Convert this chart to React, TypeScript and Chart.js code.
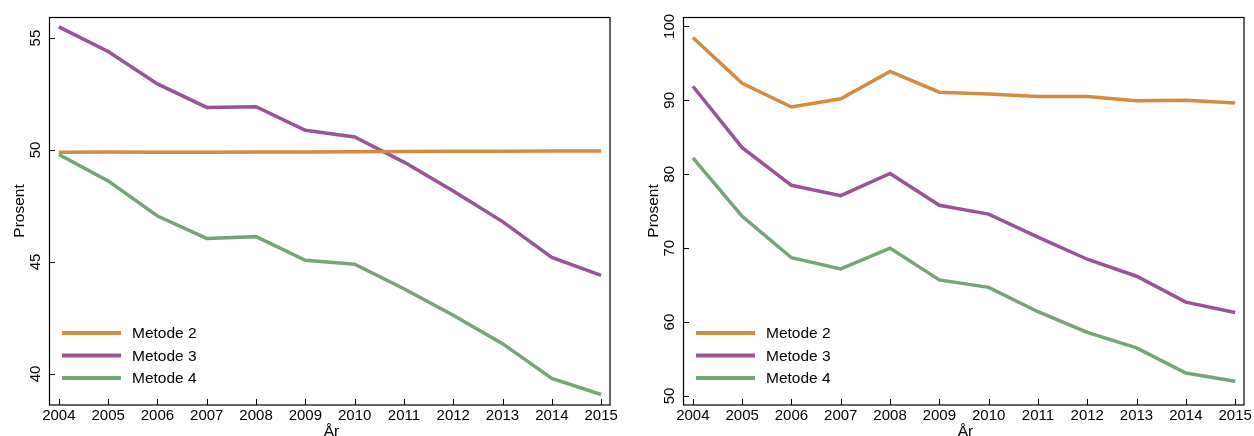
import React, { useEffect, useRef } from "react";
import { Chart, registerables } from "chart.js";

Chart.register(...registerables);

// ---------- data ----------
const years = [2004, 2005, 2006, 2007, 2008, 2009, 2010, 2011, 2012, 2013, 2014, 2015];
const seriesNames = ["Metode 2", "Metode 3", "Metode 4"];
const seriesColors = ["#D48B41", "#9A5298", "#74A579"];

const leftMetode2 = [49.9, 49.91, 49.9, 49.9, 49.91, 49.91, 49.92, 49.93, 49.94, 49.94, 49.95, 49.95];
const leftMetode3 = [55.5, 54.4, 52.95, 51.9, 51.93, 50.88, 50.58, 49.46, 48.17, 46.8, 45.2, 44.4];
const leftMetode4 = [49.8, 48.62, 47.05, 46.05, 46.13, 45.07, 44.9, 43.8, 42.62, 41.35, 39.8, 39.08];

const rightMetode2 = [98.5, 92.3, 89.1, 90.2, 93.9, 91.1, 90.85, 90.5, 90.5, 89.95, 90.0, 89.65];
const rightMetode3 = [91.9, 83.6, 78.5, 77.1, 80.1, 75.8, 74.6, 71.5, 68.5, 66.2, 62.7, 61.3];
const rightMetode4 = [82.2, 74.3, 68.7, 67.2, 70.0, 65.7, 64.7, 61.4, 58.6, 56.5, 53.1, 52.0];

const leftYTicks = [40, 45, 50, 55];
const rightYTicks = [50, 60, 70, 80, 90, 100];
const xTitle = "År";
const yTitle = "Prosent";

const FONT = '"Liberation Sans", Arial, Helvetica, sans-serif';

const framePlugin = {
  id: "stataFrame",
  afterDraw(chart: any) {
    const { ctx, chartArea: a } = chart;
    const xs = chart.scales.x;
    const ys = chart.scales.y;
    ctx.save();
    // frame
    ctx.strokeStyle = "#000";
    ctx.lineWidth = 1.2;
    ctx.strokeRect(a.left + 0.5, a.top + 0.5, a.right - a.left - 0.5, a.bottom - a.top - 0.5);
    // ticks + labels
    ctx.fillStyle = "#000";
    ctx.font = `15px ${FONT}`;
    ctx.lineWidth = 1;
    ctx.beginPath();
    xs.ticks.forEach((t: any) => {
      const px = Math.round(xs.getPixelForValue(t.value)) + 0.5;
      ctx.moveTo(px, a.bottom);
      ctx.lineTo(px, a.bottom - 6);
    });
    ys.ticks.forEach((t: any) => {
      const py = Math.round(ys.getPixelForValue(t.value)) + 0.5;
      ctx.moveTo(a.left, py);
      ctx.lineTo(a.left + 6, py);
    });
    ctx.stroke();
    ctx.textAlign = "center";
    ctx.textBaseline = "alphabetic";
    xs.ticks.forEach((t: any) => {
      const px = xs.getPixelForValue(t.value);
      ctx.fillText(String(t.value), px, a.bottom + 15);
    });
    ys.ticks.forEach((t: any) => {
      const py = ys.getPixelForValue(t.value);
      ctx.save();
      ctx.translate(a.left - 9, py);
      ctx.rotate(-Math.PI / 2);
      ctx.fillText(String(t.value), 0, 0);
      ctx.restore();
    });
    // titles
    ctx.font = `15.5px ${FONT}`;
    ctx.fillText(xTitle, (a.left + a.right) / 2 + 2, a.bottom + 31);
    ctx.save();
    ctx.translate(a.left - 25, (a.top + a.bottom) / 2);
    ctx.rotate(-Math.PI / 2);
    ctx.fillText(yTitle, 0, 0);
    ctx.restore();
    // legend
    ctx.font = `15.5px ${FONT}`;
    ctx.textAlign = "left";
    ctx.textBaseline = "middle";
    chart.data.datasets.forEach((ds: any, i: number) => {
      const ly = a.bottom - 72 + 22.5 * i;
      ctx.strokeStyle = ds.borderColor;
      ctx.lineWidth = 4;
      ctx.beginPath();
      ctx.moveTo(a.left + 13, ly);
      ctx.lineTo(a.left + 72, ly);
      ctx.stroke();
      ctx.fillStyle = "#000";
      ctx.fillText(ds.label, a.left + 83, ly + 1);
    });
    ctx.restore();
  },
};

function makeConfig(series: number[][], yMin: number, yMax: number, yTicks: number[]) {
  return {
    type: "line" as const,
    data: {
      datasets: series.map((vals, i) => ({
        label: seriesNames[i],
        data: years.map((yr, j) => ({ x: yr, y: vals[j] })),
        borderColor: seriesColors[i],
        backgroundColor: seriesColors[i],
        borderWidth: 3.5,
        pointRadius: 0,
        tension: 0,
        fill: false,
      })),
    },
    options: {
      animation: false as const,
      responsive: false,
      devicePixelRatio: 1,
      layout: { padding: { left: 49, top: 17, right: 10, bottom: 31 } },
      plugins: { legend: { display: false }, tooltip: { enabled: false } },
      scales: {
        x: {
          type: "linear" as const,
          display: false,
          min: 2003.8,
          max: 2015.18,
          afterBuildTicks: (s: any) => {
            s.ticks = years.map((v) => ({ value: v }));
          },
        },
        y: {
          type: "linear" as const,
          display: false,
          min: yMin,
          max: yMax,
          afterBuildTicks: (s: any) => {
            s.ticks = yTicks.map((v) => ({ value: v }));
          },
        },
      },
    },
    plugins: [framePlugin],
  };
}

function ChartCanvas({ series, yMin, yMax, yTicks, left }: any) {
  const ref = useRef<HTMLCanvasElement>(null);
  useEffect(() => {
    if (!ref.current) return;
    const chart = new Chart(ref.current, makeConfig(series, yMin, yMax, yTicks) as any);
    return () => chart.destroy();
  }, []);
  return (
    <canvas
      ref={ref}
      width={620}
      height={436}
      style={{ position: "absolute", left, top: 0, width: 620, height: 436 }}
    />
  );
}

export default function App() {
  return (
    <div style={{ position: "absolute", left: 0, top: 0, width: 1254, height: 436, background: "#fff", overflow: "hidden" }}>
      <ChartCanvas series={[leftMetode2, leftMetode3, leftMetode4]} yMin={38.61} yMax={55.94} yTicks={leftYTicks} left={0} />
      <ChartCanvas series={[rightMetode2, rightMetode3, rightMetode4]} yMin={48.78} yMax={101.27} yTicks={rightYTicks} left={634} />
    </div>
  );
}
